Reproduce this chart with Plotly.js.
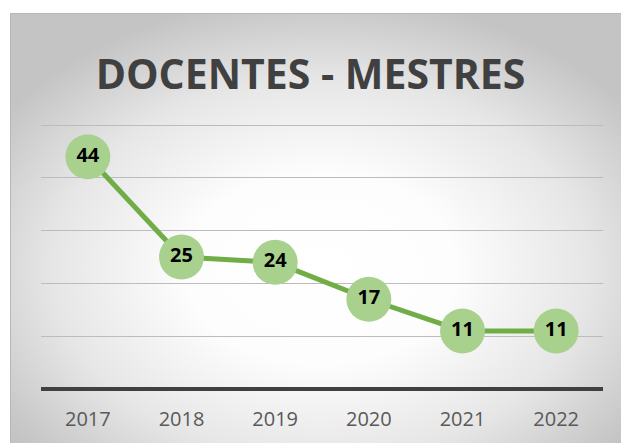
<!DOCTYPE html>
<html>
<head>
<meta charset="utf-8">
<script src="https://cdn.plot.ly/plotly-3.0.1.min.js"></script>
<style>
  html, body { margin: 0; padding: 0; background: #ffffff; }
  #wrap { position: relative; width: 621px; height: 443px; overflow: hidden; }
  #bg {
    position: absolute; left: 10px; top: 13px; width: 620px; height: 440px;
    box-sizing: border-box;
    border-left: 1px solid #b8b8b8; border-top: 1px solid #b8b8b8;
    background: radial-gradient(ellipse 62% 62% at 50% 58%, #ffffff 0%, #fdfdfd 35%, #e6e6e6 70%, #c4c4c4 100%);
  }
  #chart { position: absolute; left: 0; top: 0; width: 621px; height: 443px; }
</style>
</head>
<body>
<div id="wrap">
  <div id="bg"></div>
  <div id="chart"></div>
</div>
<script>
const years = ['2017', '2018', '2019', '2020', '2021', '2022'];
const docentesMestres = [44, 25, 24, 17, 11, 11];
const chartTitle = 'DOCENTES - MESTRES';

const trace = {
  type: 'scatter',
  mode: 'lines+markers+text',
  x: years,
  y: docentesMestres,
  text: docentesMestres.map(String),
  textposition: 'middle center',
  textfont: { family: 'Open Sans, sans-serif', size: 20, color: '#000000', weight: 700 },
  line: { color: '#70AD47', width: 5 },
  marker: { size: 45, color: '#A9D18E', line: { width: 0 } },
  cliponaxis: false,
  hoverinfo: 'skip'
};

const layout = {
  width: 621,
  height: 443,
  margin: { l: 41, r: 18, t: 124, b: 54 },
  paper_bgcolor: 'rgba(0,0,0,0)',
  plot_bgcolor: 'rgba(0,0,0,0)',
  showlegend: false,
  title: {
    text: '<b>' + chartTitle + '</b>',
    font: { family: 'Open Sans, sans-serif', size: 41, color: '#404040' },
    x: 0.5, xref: 'container', xanchor: 'center',
    y: 0.831, yref: 'container', yanchor: 'middle'
  },
  xaxis: {
    type: 'category',
    range: [-0.5, 5.5],
    showgrid: false,
    zeroline: false,
    showline: false,
    ticks: '',
    tickfont: { family: 'Open Sans, sans-serif', size: 20, color: '#595959' },
    ticklabelstandoff: 16,
    fixedrange: true
  },
  yaxis: {
    range: [0, 50.2],
    dtick: 10,
    tick0: 0,
    showticklabels: false,
    ticks: '',
    showgrid: true,
    gridcolor: '#BCBCBC',
    gridwidth: 1,
    zeroline: true,
    zerolinecolor: '#404040',
    zerolinewidth: 4,
    showline: false,
    fixedrange: true
  }
};

Plotly.newPlot('chart', [trace], layout, { displayModeBar: false, staticPlot: true });
</script>
</body>
</html>
